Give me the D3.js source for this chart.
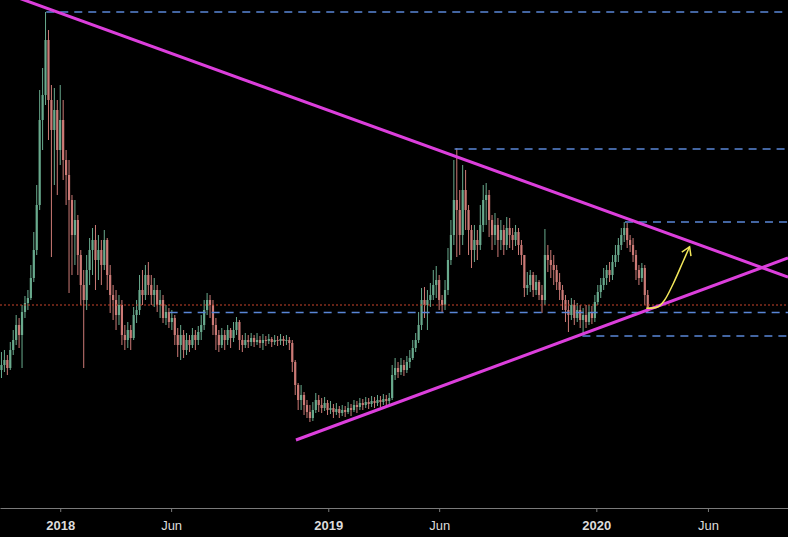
<!DOCTYPE html>
<meta charset="utf-8">
<head>
    <title>Symmetrical triangle</title>
    <script type="text/javascript" src="https://cdnjs.cloudflare.com/ajax/libs/d3/7.8.5/d3.min.js"></script>
    <style>
        body { margin: 0; background: #000; overflow: hidden; }
        .axis text { font-family: "Liberation Sans", Arial, sans-serif; font-size: 13px; fill: #dcdcdc; }
        .axis line, .axis path { stroke: #7a7a7a; }
    </style>
</head>
<body>
<script>
    // canvas
    const w = 788, h = 537

    // 4-day candles, starting 2017-10-13 (USD)
    const candleStart = "2017-10-13"
    const candleDays = 4
    const firstOpen = 5600
    const closes = [5800,6000,5680,6400,6800,7400,7000,7920,8280,8480,
        9280,10400,12200,15600,16600,18800,16400,15200,16000,14400,
        15600,14000,13400,12400,11000,11600,10200,9000,8400,9600,
        10400,10800,10000,10400,9800,10800,9400,8600,8400,7800,
        8200,7000,6800,7200,6880,7800,8000,8800,8600,9400,
        9000,8600,8800,8200,8400,7680,7920,7520,7680,7000,
        6600,7000,6400,6800,6600,7000,6800,7120,7400,8000,
        8400,8200,7400,7000,6600,7000,6800,7200,6880,7200,
        7520,6800,6600,6800,6720,6880,6720,6800,6680,6800,
        6760,6840,6720,6800,6760,6840,6760,6800,6680,5920,
        5000,4400,4600,4200,3920,3680,4000,4400,4200,4080,
        4280,4000,4080,3920,4040,3880,4000,3920,4080,4000,
        4200,4120,4280,4200,4320,4240,4360,4280,4400,4320,
        4440,4360,4480,5400,5680,5520,5800,5600,5920,6080,
        6480,6800,7400,8400,8200,8400,8600,9000,9200,8400,
        8200,8800,10000,11000,12400,12000,11000,12800,12000,11200,
        10400,10800,10600,11400,12400,12600,11600,11000,11400,10800,
        11200,10600,11280,11000,10800,11120,10600,10200,8880,9000,
        9400,8800,9120,8600,8400,10200,10000,9800,9600,9120,
        8800,8400,8000,7800,8200,7680,8000,7600,7800,7520,
        7920,7680,8320,8720,9000,9280,9600,9400,9920,10200,
        10600,11000,11280,10800,10600,10200,9600,9280,9680,8600,
        8080]
    const highs = [6320,6400,6200,6720,7200,7800,7680,8200,8560,8800,
        9800,11120,13000,16800,17680,19920,19200,17000,16880,16400,
        17000,16400,14400,14000,12600,12400,11800,10400,9600,10200,
        10880,11280,11400,11000,10800,11200,10880,9800,9000,8800,
        8600,8400,7400,7520,7400,8120,8400,9400,9600,9800,
        9920,9400,9280,9000,8800,8600,8200,8080,8000,7800,
        7280,7400,7200,7080,7000,7280,7200,7360,7800,8400,
        8680,8600,8400,7680,7200,7280,7200,7400,7280,7520,
        7720,7600,7000,7080,7000,7080,7000,7080,6960,7040,
        6960,7040,6920,7000,6960,7040,6960,7000,6920,6800,
        6000,5080,5000,4720,4400,4200,4320,4680,4600,4480,
        4520,4400,4360,4240,4280,4160,4200,4160,4320,4240,
        4400,4360,4480,4440,4520,4480,4560,4520,4600,4560,
        4640,4600,4680,5800,6080,5920,6080,6000,6160,6400,
        6800,7080,7920,8880,8920,8800,9080,9600,9760,9400,
        8600,9200,10480,11600,14000,14480,12800,13800,13600,12200,
        11400,11400,11200,12200,13000,13080,12800,11800,11880,11680,
        11600,11400,11720,11680,11280,11400,11280,10800,10200,9520,
        9600,9520,9400,9200,9000,11240,10600,10400,10200,9800,
        9480,9000,8600,8400,8480,8400,8280,8200,8080,8200,
        8200,8160,8600,9000,9280,9680,9800,9920,10200,10600,
        10880,11280,11520,11480,11000,10880,10400,9800,9880,9800,
        8800]
    const lows = [5280,5520,5400,5600,6200,6600,6480,5680,7680,8000,
        8400,9120,10200,12000,14400,16200,14800,10120,13000,12600,
        13800,13200,12200,8680,9400,9800,9400,8200,5680,8000,
        9000,9400,8800,9200,9000,9600,8800,7880,7600,7200,
        7400,6600,6400,6480,6400,6800,7480,7800,8200,8400,
        8600,8200,8120,7920,7680,7480,7400,7280,7200,6600,
        6120,6000,6080,6200,6320,6480,6400,6600,6800,7200,
        7800,7680,7000,6400,6320,6480,6400,6600,6480,6720,
        7000,6400,6320,6480,6480,6560,6520,6600,6480,6400,
        6560,6640,6520,6600,6560,6600,6560,6600,6400,5520,
        4600,4000,4000,3800,3680,3520,3560,3880,3920,3880,
        3960,3800,3840,3680,3800,3680,3760,3720,3840,3760,
        3920,3880,4000,4000,4080,4040,4120,4080,4160,4120,
        4200,4160,4240,4400,5200,5280,5400,5360,5480,5680,
        6000,6320,6680,7200,7680,7200,8120,8400,8480,8000,
        7920,8000,8600,9800,10600,10120,10200,10600,11200,10200,
        9680,9920,10000,10400,11120,11400,10920,10400,10600,10120,
        10400,10200,10400,10480,10400,10560,10200,9800,8520,8600,
        8720,8520,8600,8400,7880,8200,9520,9280,9000,8800,
        8400,8000,7520,7120,7600,7400,7520,7280,7000,7280,
        7400,7440,7520,8200,8480,8800,9000,9120,9200,9720,
        9920,10400,10720,10480,10320,9920,9200,9000,9120,8200,
        7920]

    // horizontal levels (blue dashed): price and the date where each starts
    const levelPrices = [19920, 14440, 11520, 7900, 6960]
    const levelStarts = ["2017-12-13", "2019-06-22", "2020-02-09", "2018-05-30", "2019-12-13"]
    const currentPrice = 8200

    // triangle trend lines [date, price]
    const upperLine = [["2017-10-11", 20750], ["2020-09-18", 9320]]
    const lowerLine = [["2018-11-18", 2800], ["2020-09-18", 10080]]

    // projected move (yellow arrow)
    const arrowDates = ["2020-03-09", "2020-03-25", "2020-04-03", "2020-04-15", "2020-04-28", "2020-05-07"]
    const arrowPrices = [8070, 8130, 8400, 9070, 9930, 10530]

    const tickDates = ["2018-01-01", "2018-06-01", "2019-01-01", "2019-06-01", "2020-01-01", "2020-06-01"]

    const parse = d3.utcParse("%Y-%m-%d")

    let svg = d3.select("body").append("svg")
        .attr("width", w)
        .attr("height", h)
        .style("background", "#000")
        .style("display", "block")

    let x = d3.scaleUtc()
        .domain([parse("2017-10-11"), parse("2020-09-18")])
        .range([0, w])
    let y = d3.scaleLinear()
        .domain([-1080, 20400])
        .range([h, 0])

    // build candles
    let t0 = parse(candleStart)
    let candles = closes.map(function (c, i) {
        return {
            date: d3.utcDay.offset(t0, i * candleDays),
            open: i == 0 ? firstOpen : closes[i - 1],
            close: c,
            high: highs[i],
            low: lows[i]
        }
    })

    const upColor = "#72b99a", downColor = "#de8580"
    const bodyW = 2.2

    let cg = svg.append("g").attr("id", "candles")
    let candle = cg.selectAll("g")
        .data(candles)
        .enter()
        .append("g")
        .attr("fill", d => d.close >= d.open ? upColor : downColor)
        .attr("opacity", 0.92)

    candle.append("rect")
        .attr("x", d => x(d.date) - 0.5)
        .attr("width", 1)
        .attr("y", d => y(d.high))
        .attr("height", d => y(d.low) - y(d.high))

    candle.append("rect")
        .attr("x", d => x(d.date) - bodyW / 2)
        .attr("width", bodyW)
        .attr("y", d => y(Math.max(d.open, d.close)))
        .attr("height", d => Math.max(1, Math.abs(y(d.open) - y(d.close))))

    // current price (red dotted)
    svg.append("line")
        .attr("x1", 0)
        .attr("x2", w)
        .attr("y1", y(currentPrice))
        .attr("y2", y(currentPrice))
        .attr("stroke", "#c8442c")
        .attr("stroke-width", 1.2)
        .attr("stroke-dasharray", "2,2")

    // levels
    svg.append("g").selectAll("line")
        .data(levelPrices)
        .enter()
        .append("line")
        .attr("x1", (d, i) => x(parse(levelStarts[i])))
        .attr("x2", w)
        .attr("y1", d => y(d))
        .attr("y2", d => y(d))
        .attr("stroke", "#5a86d6")
        .attr("stroke-width", 1.3)
        .attr("stroke-dasharray", "8,6")

    // triangle
    let tline = d3.line()
        .x(d => x(parse(d[0])))
        .y(d => y(d[1]))

    svg.selectAll(".trend")
        .data([upperLine, lowerLine])
        .enter()
        .append("path")
        .attr("class", "trend")
        .attr("d", tline)
        .attr("fill", "none")
        .attr("stroke", "#dc3fdc")
        .attr("stroke-width", 3)

    // arrow
    svg.append("defs").append("marker")
        .attr("id", "head")
        .attr("markerUnits", "userSpaceOnUse")
        .attr("markerWidth", 14)
        .attr("markerHeight", 14)
        .attr("refX", 9)
        .attr("refY", 6)
        .attr("orient", "auto")
        .append("path")
        .attr("d", "M1,1 L9,6 L1,11")
        .attr("fill", "none")
        .attr("stroke", "#f2e75a")
        .attr("stroke-width", 1.5)

    let arrowPts = arrowDates.map((d, i) => [x(parse(d)), y(arrowPrices[i])])
    svg.append("path")
        .attr("d", d3.line().curve(d3.curveCatmullRom)(arrowPts))
        .attr("fill", "none")
        .attr("stroke", "#f2e75a")
        .attr("stroke-width", 1.5)
        .attr("marker-end", "url(#head)")

    // x axis
    let fmt = d3.utcFormat("%Y"), fmtM = d3.utcFormat("%b")
    let axis = d3.axisBottom(x)
        .tickValues(tickDates.map(parse))
        .tickSize(4)
        .tickSizeOuter(0)
        .tickPadding(9)
        .tickFormat(d => d.getUTCMonth() == 0 ? fmt(d) : fmtM(d))

    let ax = svg.append("g")
        .attr("class", "axis")
        .attr("transform", "translate(0,508)")
        .call(axis)
    ax.selectAll("text")
        .style("font-weight", d => d.getUTCMonth() == 0 ? "bold" : "normal")
</script>
</body>
</html>
